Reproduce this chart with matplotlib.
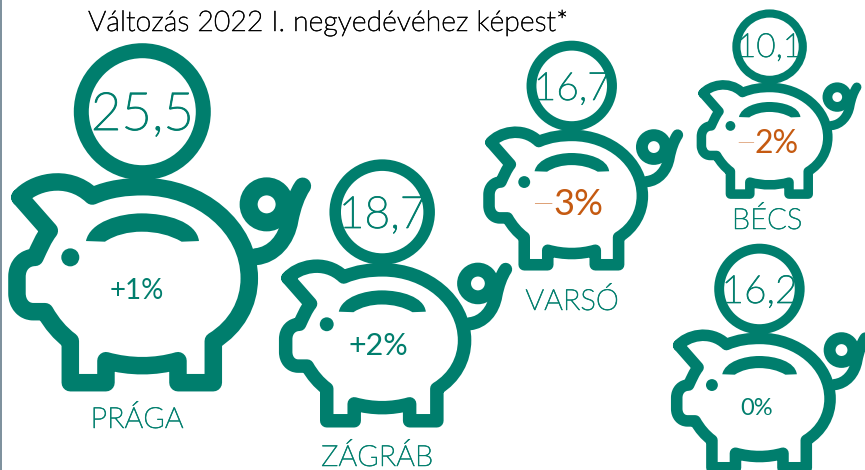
import numpy as np
import matplotlib
matplotlib.use("Agg")
import matplotlib.pyplot as plt
from matplotlib import font_manager as fm
from matplotlib import patheffects as pe
from matplotlib.path import Path
from matplotlib.patches import PathPatch, Circle, Rectangle

plt.rcParams['font.family'] = ['Lato', 'DejaVu Sans']

# data
cities = ["PRÁGA", "ZÁGRÁB", "VARSÓ", "BÉCS", ""]
values = [25.5, 18.7, 16.7, 10.1, 16.2]
changes = [1, 2, -3, -2, 0]
title = "Változás 2022 I. negyedévéhez képest*"

# layout, one entry per pig (left edge, bottom edge, scale)
pig_left = [8.3, 279, 483.3, 696.7, 671]
pig_bottom = [391.7, 427.7, 270.7, 199, 473.7]
pig_scale = [1.0, 0.77, 0.66, 0.544, 0.66]
value_size = [38, 32, 28, 24, 28]
value_base = [130, 228, 100, 57, 303]
change_size = [20, 22, 26, 23, 17]
change_base = [299, 355, 215, 153, 415]
label_x = [137, 377, 572, 767]
label_base = [428, 466, 310, 229]

TEAL = "#007E6D"
ORANGE = "#C55A11"

# matplotlib picks the hairline cut for weight="light", so go by file name
light_files = [f.fname for f in fm.fontManager.ttflist
               if f.name.startswith("Lato") and "Light" in f.fname and "Italic" not in f.fname]
if light_files:
    def light(size):
        return fm.FontProperties(fname=light_files[0], size=size)
else:
    def light(size):
        return fm.FontProperties(family="Lato", size=size)


def thicken(size, col):
    # the light cut is a bit thinner than the reference text
    return [pe.withStroke(linewidth=size * 0.018, foreground=col)]


# icon outline, drawn on the big pig measured at 3x
M, L, C = Path.MOVETO, Path.LINETO, Path.CURVE4
body_v = [(60, 472), (95, 430), (200, 395), (277, 468),
          (330, 445), (380, 440), (430, 440),
          (600, 440), (748, 560), (748, 715),
          (748, 790), (710, 860), (640, 903),
          (640, 1028), (534, 1028), (534, 962),
          (465, 982), (390, 982), (318, 962),
          (318, 1028), (211, 1028), (211, 903),
          (180, 880), (155, 850), (135, 815),
          (100, 815),
          (70, 815), (51, 790), (51, 760),
          (51, 710),
          (51, 675), (75, 652), (105, 652),
          (120, 620), (130, 595), (148, 572),
          (60, 472)]
body_c = [M, C, C, C, C, C, C, C, C, C, C, C, C, L, L, L, C, C, C, L, L, L,
          C, C, C, L, C, C, C, L, C, C, C, C, C, C, L]
tail_v = [(768, 650), (820, 645), (860, 600), (870, 540),
          (878, 500), (890, 465), (908, 438)]
tail_c = [M, C, C, C, C, C, C]
slot_v = [(258, 603), (270, 545), (360, 520), (425, 520),
          (500, 520), (590, 545), (597, 603),
          (545, 605),
          (510, 585), (470, 575), (425, 575),
          (385, 575), (345, 585), (315, 605),
          (258, 603)]
slot_c = [M, C, C, C, C, C, C, L, C, C, C, C, C, C, L]


def place(pts, left, bottom, s):
    pts = np.array(pts, dtype=float)
    x = left + s * (pts[:, 0] - 25) / 3
    y = bottom - s * (1055 - pts[:, 1]) / 3
    return np.column_stack([x, y])


def lw(px):
    return px * 72 / 100


fig = plt.figure(figsize=(8.65, 4.7), dpi=100)
ax = fig.add_axes([0, 0, 1, 1])
ax.set_xlim(0, 865)
ax.set_ylim(470, 0)
ax.axis("off")

ax.add_patch(Rectangle((0, 0), 2, 470, color="#7F929E", lw=0))
ax.text(88, 31, title, fontproperties=light(20.5), color="black", ha="left", va="baseline",
        path_effects=thicken(20.5, "black"))

for i in range(len(values)):
    x0, y0, s = pig_left[i], pig_bottom[i], pig_scale[i]
    ax.add_patch(PathPatch(Path(place(body_v, x0, y0, s), body_c), fc="none", ec=TEAL,
                           lw=lw(17.5 * s), joinstyle="round", capstyle="round"))
    ax.add_patch(PathPatch(Path(place(tail_v, x0, y0, s), tail_c), fc="none", ec=TEAL,
                           lw=lw(17 * s), joinstyle="round", capstyle="round"))
    ax.add_patch(PathPatch(Path(place(slot_v, x0, y0, s), slot_c), fc=TEAL, ec="none"))
    ring = place([(800, 493)], x0, y0, s)[0]
    ax.add_patch(Circle(ring, 18 * s, fc="none", ec=TEAL, lw=lw(18 * s)))
    eye = place([(211, 652)], x0, y0, s)[0]
    ax.add_patch(Circle(eye, 9 * s, fc=TEAL, ec="none"))
    coin = place([(427, 215)], x0, y0, s)[0]
    ax.add_patch(Circle(coin, 61 * s, fc="none", ec=TEAL, lw=lw(15 * s)))

    ax.text(coin[0], value_base[i], f"{values[i]:.1f}".replace(".", ","),
            fontproperties=light(value_size[i]), color=TEAL, ha="center", va="baseline",
            path_effects=thicken(value_size[i], TEAL))

    c = changes[i]
    fs = change_size[i]
    if c < 0:
        # long thin minus sign in front of regular digits
        t = ax.text(coin[0] - 5 * s + 10, change_base[i], f"{-c}%", fontsize=fs, color=ORANGE,
                    ha="center", va="baseline")
        box = t.get_window_extent(fig.canvas.get_renderer())
        dash = fs * 0.75
        ax.text(box.x0, change_base[i] - fs * 0.46 + dash * 0.42, "—", fontproperties=light(dash),
                color=ORANGE, ha="right", va="baseline")
    else:
        txt = f"+{c}%" if c > 0 else "0%"
        ax.text(coin[0] - 5 * s, change_base[i], txt, fontsize=fs, color=TEAL,
                ha="center", va="baseline")

    if cities[i]:
        ax.text(label_x[i], label_base[i], cities[i], fontproperties=light(21), color=TEAL,
                ha="center", va="baseline", path_effects=thicken(21, TEAL))

fig.savefig("out.png", dpi=100)
